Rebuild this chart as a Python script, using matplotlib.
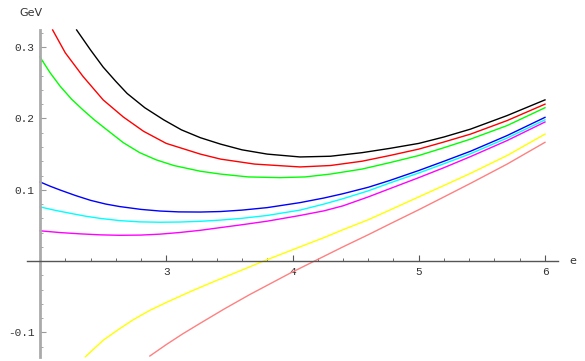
import matplotlib
matplotlib.use("Agg")
import matplotlib.pyplot as plt
from matplotlib.ticker import FixedLocator

# curves (x in e, y in GeV)
black_x = [2.29, 2.4, 2.5, 2.6, 2.69, 2.83, 2.98, 3.12, 3.27, 3.43, 3.6, 3.8, 4.06, 4.3, 4.55, 4.77, 5.0, 5.2, 5.41, 5.7, 6.0]
black_y = [0.324, 0.296, 0.272, 0.252, 0.235, 0.215, 0.198, 0.184, 0.173, 0.164, 0.156, 0.150, 0.146, 0.147, 0.152, 0.158, 0.165, 0.174, 0.185, 0.204, 0.226]

red_x = [2.10, 2.2, 2.34, 2.5, 2.66, 2.82, 3.0, 3.27, 3.43, 3.7, 4.06, 4.3, 4.55, 4.77, 5.0, 5.2, 5.41, 5.7, 6.0]
red_y = [0.324, 0.292, 0.259, 0.226, 0.202, 0.182, 0.165, 0.150, 0.143, 0.136, 0.132, 0.134, 0.140, 0.148, 0.157, 0.167, 0.178, 0.197, 0.220]

green_x = [2.0, 2.08, 2.16, 2.25, 2.34, 2.43, 2.53, 2.66, 2.79, 2.92, 3.06, 3.27, 3.43, 3.65, 3.9, 4.1, 4.3, 4.55, 4.77, 5.0, 5.2, 5.41, 5.7, 6.0]
green_y = [0.286, 0.264, 0.245, 0.227, 0.212, 0.198, 0.184, 0.166, 0.152, 0.142, 0.134, 0.126, 0.122, 0.118, 0.117, 0.118, 0.122, 0.129, 0.138, 0.148, 0.159, 0.171, 0.190, 0.215]

blue_x = [2.0, 2.08, 2.16, 2.28, 2.4, 2.52, 2.63, 2.8, 2.95, 3.1, 3.27, 3.43, 3.6, 3.8, 4.06, 4.25, 4.4, 4.6, 4.77, 5.0, 5.2, 5.41, 5.7, 6.0]
blue_y = [0.111, 0.105, 0.0996, 0.092, 0.0852, 0.0800, 0.0765, 0.0725, 0.0702, 0.0690, 0.0688, 0.0695, 0.0715, 0.0750, 0.0820, 0.0885, 0.0945, 0.1035, 0.1130, 0.1270, 0.1400, 0.1540, 0.1760, 0.2015]

cyan_x = [2.0, 2.12, 2.24, 2.36, 2.48, 2.63, 2.79, 2.95, 3.11, 3.27, 3.43, 3.6, 3.8, 4.06, 4.25, 4.4, 4.6, 4.77, 5.0, 5.2, 5.41, 5.7, 6.0]
cyan_y = [0.076, 0.0712, 0.067, 0.0630, 0.0598, 0.0568, 0.0550, 0.0545, 0.0548, 0.0558, 0.0575, 0.0600, 0.0640, 0.0715, 0.0800, 0.0875, 0.0985, 0.1095, 0.1235, 0.1365, 0.1505, 0.1725, 0.198]

magenta_x = [2.0, 2.16, 2.32, 2.48, 2.63, 2.8, 2.95, 3.1, 3.27, 3.43, 3.6, 3.8, 4.06, 4.25, 4.4, 4.6, 4.77, 5.0, 5.2, 5.41, 5.7, 6.0]
magenta_y = [0.0425, 0.0400, 0.0382, 0.0368, 0.0362, 0.0365, 0.0378, 0.0400, 0.0432, 0.0470, 0.0510, 0.0560, 0.0640, 0.0705, 0.0775, 0.0900, 0.1015, 0.1170, 0.1310, 0.1465, 0.1690, 0.1950]

yellow_x = [2.36, 2.5, 2.62, 2.74, 2.87, 3.0, 3.2, 3.4, 3.6, 3.77, 4.06, 4.25, 4.4, 4.6, 4.77, 5.0, 5.2, 5.41, 5.7, 6.0]
yellow_y = [-0.134, -0.111, -0.096, -0.082, -0.069, -0.058, -0.042, -0.027, -0.0125, 0.0, 0.020, 0.033, 0.044, 0.058, 0.0715, 0.090, 0.106, 0.123, 0.148, 0.178]

pink_x = [2.87, 3.0, 3.13, 3.27, 3.46, 3.66, 3.82, 3.98, 4.15, 4.4, 4.6, 4.77, 5.0, 5.2, 5.41, 5.7, 6.0]
pink_y = [-0.133, -0.117, -0.102, -0.087, -0.067, -0.047, -0.032, -0.017, -0.002, 0.020, 0.037, 0.052, 0.072, 0.090, 0.109, 0.136, 0.1665]

curves = [
    (black_x, black_y, "#000000"),
    (red_x, red_y, "#ff0000"),
    (green_x, green_y, "#00ff00"),
    (blue_x, blue_y, "#0000ff"),
    (cyan_x, cyan_y, "#00ffff"),
    (magenta_x, magenta_y, "#ff00ff"),
    (yellow_x, yellow_y, "#ffff00"),
    (pink_x, pink_y, "#ff8080"),
]

x_major = [3, 4, 5, 6]
x_minor = [2.2, 2.4, 2.6, 2.8, 3.2, 3.4, 3.6, 3.8, 4.2, 4.4, 4.6, 4.8, 5.2, 5.4, 5.6, 5.8]
y_major = [-0.1, 0.1, 0.2, 0.3]
y_labels = ["-0.1", "0.1", "0.2", "0.3"]
y_minor = [-0.12, -0.08, -0.06, -0.04, -0.02, 0.02, 0.04, 0.06, 0.08,
           0.12, 0.14, 0.16, 0.18, 0.22, 0.24, 0.26, 0.28, 0.32]

fig = plt.figure(figsize=(5.85, 3.61), dpi=100)
ax = fig.add_axes([0, 0, 1, 1])
ax.set_xlim(1.683, 6.317)
ax.set_ylim(-0.140, 0.366)

for xs, ys, c in curves:
    ax.plot(xs, ys, color=c, lw=1.0)

# axes crossing at (2, 0), Mathematica style
ax.spines["top"].set_visible(False)
ax.spines["right"].set_visible(False)
ax.spines["left"].set_position(("data", 2))
ax.spines["bottom"].set_position(("data", 0))
ax.spines["left"].set_bounds(-0.135, 0.324)
ax.spines["bottom"].set_bounds(1.897, 6.1)
ax.spines["left"].set_color("#aaaaaa")
ax.spines["left"].set_linewidth(2.0)
ax.spines["bottom"].set_color("#555555")
ax.spines["bottom"].set_linewidth(1.0)

ax.xaxis.set_major_locator(FixedLocator(x_major))
ax.xaxis.set_minor_locator(FixedLocator(x_minor))
ax.set_xticklabels([str(v) for v in x_major])
ax.yaxis.set_major_locator(FixedLocator(y_major))
ax.yaxis.set_minor_locator(FixedLocator(y_minor))
ax.set_yticklabels(y_labels)

ax.tick_params(axis="x", which="both", direction="in", colors="#555555",
               labelcolor="#333333", pad=4, labelsize=8)
ax.tick_params(axis="x", which="major", length=4, width=0.8)
ax.tick_params(axis="x", which="minor", length=2.5, width=0.6)
ax.tick_params(axis="y", which="both", direction="in", colors="#999999",
               labelcolor="#333333", pad=4, labelsize=8)
ax.tick_params(axis="y", which="major", length=4, width=0.8)
ax.tick_params(axis="y", which="minor", length=2.5, width=0.6)
for lab in ax.get_xticklabels() + ax.get_yticklabels():
    lab.set_family("Liberation Mono")

ax.text(6.22, 0.0, "e", ha="center", va="center", fontsize=8, color="#333333")
ax.text(1.93, 0.348, "GeV", ha="center", va="center", fontsize=8, color="#333333")

fig.savefig("out.png", dpi=100)
